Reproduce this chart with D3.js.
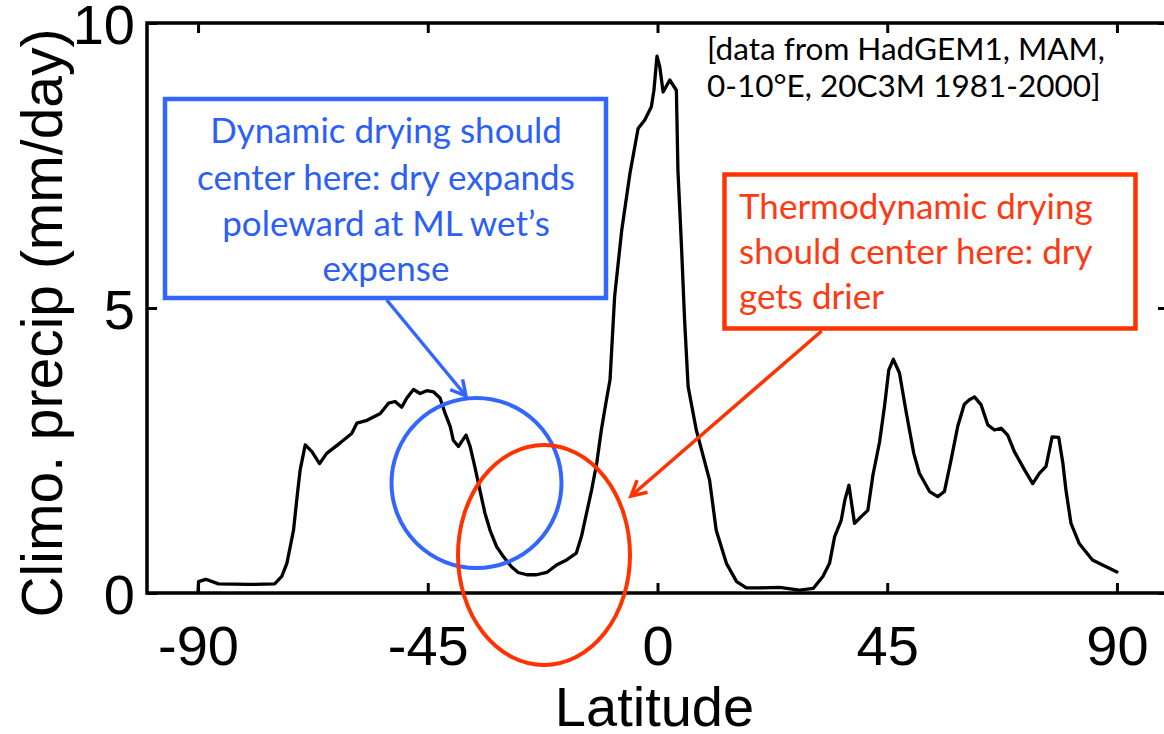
<!DOCTYPE html>
<html>
<head>
<meta charset="utf-8">
<script src="https://cdn.jsdelivr.net/npm/d3@7"></script>
<style>
  html, body { margin: 0; padding: 0; background: #fff; }
  svg { display: block; }
</style>
</head>
<body>
<svg id="chart" width="1164" height="734"></svg>
<script>
// ---- data ----
const latitude = [-90, -89.9, -88.5, -86, -80, -75, -73.6, -72.6, -71.3, -70.6, -70, -69, -67.7, -66.2, -64.8, -62.2, -59.9, -58.9, -56.9, -54.3, -52.7, -51.4, -50.1, -49.1, -47.8, -46.5, -45.2, -43.9, -42.6, -41.6, -40.6, -40, -39, -38.4, -37.5, -36.7, -35.8, -34.8, -33.8, -32.8, -31.5, -30.2, -28.6, -27.3, -25.6, -23.7, -21.7, -19.8, -17.8, -15.9, -14.9, -13.9, -12.9, -11.9, -11, -10, -9.3, -8.4, -7, -5.4, -3.8, -2.5, -1.2, -0.7, -0.1, 0.45, 1.1, 2.4, 3.7, 4.0, 4.7, 5.3, 6.0, 7.6, 10.2, 11.5, 13.5, 15.5, 17.4, 20, 23.9, 27.8, 30.5, 32.4, 33.7, 34.7, 36, 36.7, 37.5, 38.6, 39.9, 41.2, 42.2, 43.5, 44.5, 45.3, 46.2, 47.4, 48.7, 50.2, 51.3, 53.3, 54.9, 56.2, 57.5, 58.8, 60.1, 61.1, 62.1, 63.4, 64.7, 66, 67.3, 68.6, 69.9, 71.9, 73.5, 74.8, 76.1, 77.3, 78.6, 79.4, 80, 81, 82.6, 85.2, 87.9, 90];
const precip = [0.03, 0.2, 0.24, 0.16, 0.15, 0.16, 0.29, 0.52, 1.1, 1.69, 2.16, 2.6, 2.48, 2.27, 2.45, 2.63, 2.8, 2.98, 3.03, 3.15, 3.33, 3.36, 3.26, 3.42, 3.57, 3.5, 3.55, 3.53, 3.42, 3.15, 2.92, 2.68, 2.57, 2.65, 2.77, 2.57, 2.22, 1.81, 1.4, 1.1, 0.81, 0.64, 0.46, 0.36, 0.32, 0.32, 0.36, 0.49, 0.58, 0.7, 0.99, 1.4, 1.81, 2.28, 2.86, 3.39, 3.74, 5.2, 6.37, 7.36, 8.15, 8.3, 8.53, 8.82, 9.42, 9.23, 8.79, 9.0, 8.82, 7.42, 6.08, 4.8, 3.62, 2.86, 1.98, 1.1, 0.52, 0.2, 0.09, 0.09, 0.1, 0.05, 0.08, 0.29, 0.52, 0.99, 1.28, 1.63, 1.89, 1.22, 1.34, 1.45, 2.07, 2.65, 3.3, 3.91, 4.1, 3.86, 3.18, 2.45, 2.1, 1.78, 1.69, 1.78, 2.33, 2.92, 3.31, 3.39, 3.44, 3.3, 2.95, 2.86, 2.89, 2.77, 2.48, 2.16, 1.92, 2.1, 2.22, 2.74, 2.73, 2.28, 1.81, 1.22, 0.87, 0.58, 0.46, 0.37];
const xTicks = [-90, -45, 0, 45, 90];
const yTicks = [0, 5, 10];
const xLabel = "Latitude";
const yLabel = "Climo. precip (mm/day)";
const sourceNote = ["[data from HadGEM1, MAM,", "0-10°E, 20C3M 1981-2000]"];
const blueNote = ["Dynamic drying should", "center here: dry expands", "poleward at ML wet’s", "expense"];
const redNote = ["Thermodynamic drying", "should center here: dry", "gets drier"];

// ---- layout ----
const svg = d3.select("#chart");
const L = 147, R = 1168, T = 23, B = 593;
const x = d3.scaleLinear().domain([-100, 100]).range([L, R]);
const y = d3.scaleLinear().domain([0, 10]).range([B, T]);
const axisFont = "'Liberation Sans', Arial, Helvetica, sans-serif";
const noteFont = "Lato, 'Open Sans', sans-serif";
const BLUE = "#3366ff", BLUE_T = "#2c5ff6", RED = "#ff3300", RED_T = "#ff3a12";

// axes
const gx = svg.append("g").attr("transform", `translate(0,${B})`)
  .call(d3.axisBottom(x).tickValues(xTicks).tickSizeInner(-10).tickSizeOuter(0).tickPadding(32)
    .tickFormat(d => String(d)));
const gxt = svg.append("g").attr("transform", `translate(0,${T})`)
  .call(d3.axisTop(x).tickValues(xTicks).tickSizeInner(-10).tickSizeOuter(0).tickFormat(""));
const gy = svg.append("g").attr("transform", `translate(${L},0)`)
  .call(d3.axisLeft(y).tickValues(yTicks).tickSizeInner(-10).tickSizeOuter(0).tickPadding(12)
    .tickFormat(d => String(d)));
const gyr = svg.append("g").attr("transform", `translate(${R},0)`)
  .call(d3.axisRight(y).tickValues(yTicks).tickSizeInner(-10).tickSizeOuter(0).tickFormat(""));
[gx, gxt, gy, gyr].forEach(g => {
  g.select(".domain").remove();
  g.selectAll(".tick line").attr("stroke", "#000").attr("stroke-width", 3);
  g.selectAll(".tick text").attr("font-family", axisFont).attr("font-size", 56).attr("fill", "#000");
});
gy.selectAll(".tick text").attr("dy", "0.36em");

// frame
svg.append("rect").attr("x", L).attr("y", T).attr("width", R - L).attr("height", B - T)
  .attr("fill", "none").attr("stroke", "#000").attr("stroke-width", 3.5);

// axis titles
svg.append("text").attr("x", (x(-100) + x(100)) / 2 - 3).attr("y", 726)
  .attr("text-anchor", "middle").attr("font-family", axisFont).attr("font-size", 56)
  .text(xLabel);
svg.append("text").attr("transform", `translate(62,${(T + B) / 2 + 15}) rotate(-90)`)
  .attr("text-anchor", "middle").attr("font-family", axisFont).attr("font-size", 57)
  .text(yLabel);

// curve
const pts = latitude.map((d, i) => [d, precip[i]]);
svg.append("path").datum(pts)
  .attr("fill", "none").attr("stroke", "#000").attr("stroke-width", 3.3)
  .attr("stroke-linejoin", "round").attr("stroke-linecap", "round")
  .attr("d", d3.line().x(d => x(d[0])).y(d => y(d[1])));

// source note
svg.append("g").selectAll("text").data(sourceNote).join("text")
  .attr("x", 707).attr("y", (d, i) => 60 + i * 37)
  .attr("font-family", noteFont).attr("font-size", 31.5).attr("fill", "#000")
  .text(d => d);

// markers
const defs = svg.append("defs");
[["arrBlue", BLUE], ["arrRed", RED]].forEach(([id, c]) => {
  defs.append("marker").attr("id", id).attr("markerUnits", "userSpaceOnUse")
    .attr("viewBox", "-20 -12 24 24").attr("refX", 0).attr("refY", 0)
    .attr("markerWidth", 24).attr("markerHeight", 24).attr("orient", "auto")
    .append("path").attr("d", "M-15,-8 L0,0 L-15,8")
    .attr("fill", "none").attr("stroke", c).attr("stroke-width", 3.5)
    .attr("stroke-linejoin", "miter");
});

// blue annotation
svg.append("ellipse").attr("cx", 476.5).attr("cy", 483).attr("rx", 85).attr("ry", 85)
  .attr("fill", "none").attr("stroke", BLUE).attr("stroke-width", 4);
svg.append("rect").attr("x", 165).attr("y", 99).attr("width", 441).attr("height", 199)
  .attr("fill", "#fff").attr("stroke", BLUE).attr("stroke-width", 4.5);
svg.append("g").selectAll("text").data(blueNote).join("text")
  .attr("x", 386).attr("y", (d, i) => [143, 189.5, 235.5, 281][i])
  .attr("text-anchor", "middle").attr("font-family", noteFont).attr("font-size", 35)
  .attr("fill", BLUE_T).text(d => d);
svg.append("line").attr("x1", 386.7).attr("y1", 300).attr("x2", 466).attr("y2", 396)
  .attr("stroke", BLUE).attr("stroke-width", 3.5).attr("marker-end", "url(#arrBlue)");

// red annotation
svg.append("ellipse").attr("cx", 544).attr("cy", 555).attr("rx", 86).attr("ry", 110)
  .attr("fill", "none").attr("stroke", RED).attr("stroke-width", 4);
svg.append("rect").attr("x", 724.5).attr("y", 174.5).attr("width", 411).attr("height", 154)
  .attr("fill", "#fff").attr("stroke", RED).attr("stroke-width", 4.5);
svg.append("g").selectAll("text").data(redNote).join("text")
  .attr("x", 739).attr("y", (d, i) => [219, 264, 309][i])
  .attr("font-family", noteFont).attr("font-size", 35)
  .attr("fill", RED_T).text(d => d);
svg.append("line").attr("x1", 821.7).attr("y1", 331).attr("x2", 631).attr("y2", 496)
  .attr("stroke", RED).attr("stroke-width", 3.5).attr("marker-end", "url(#arrRed)");
</script>
</body>
</html>
